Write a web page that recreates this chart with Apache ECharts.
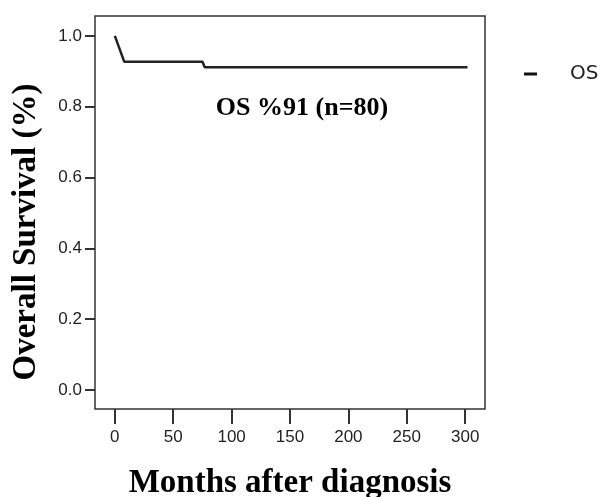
<!DOCTYPE html>
<html>
<head>
<meta charset="utf-8">
<script src="https://cdn.jsdelivr.net/npm/echarts@6/dist/echarts.min.js"></script>
<style>
html,body{margin:0;padding:0;background:#fff;}
#chart{width:603px;height:497px;}
</style>
</head>
<body>
<div id="chart"></div>
<script>
// Data
const seriesName = 'OS';
const osMonths = [0, 8, 75, 77, 302];
const osSurvival = [1.0, 0.927, 0.927, 0.911, 0.911];
const xTickValues = [0, 50, 100, 150, 200, 250, 300];
const yTickValues = [0.0, 0.2, 0.4, 0.6, 0.8, 1.0];
const annotationText = 'OS %91 (n=80)';
const xTitle = 'Months after diagnosis';
const yTitle = 'Overall Survival (%)';

const chart = echarts.init(document.getElementById('chart'), null, {renderer: 'canvas'});
const lineData = osMonths.map((m, i) => [m, osSurvival[i]]);
const tickColor = '#333';
const option = {
  animation: false,
  backgroundColor: '#fff',
  grid: {left: 95, top: 16, width: 390, height: 393, outerBoundsMode: 'none', containLabel: false,
    show: true, borderColor: '#333', borderWidth: 1.5, backgroundColor: 'transparent'},
  legend: {
    show: true, left: 519, top: 59, orient: 'vertical',
    icon: 'rect', itemWidth: 13, itemHeight: 3,
    data: [{name: seriesName, itemStyle: {color: '#111'}}],
    textStyle: {fontFamily: 'DejaVu Sans', fontSize: 20, color: '#222', padding: [0, 0, 0, 28]}
  },
  xAxis: {
    type: 'value', min: -17, max: 317, position: 'bottom',
    name: xTitle, nameLocation: 'middle', nameGap: 58,
    nameTextStyle: {fontFamily: 'Liberation Serif', fontWeight: 'bold', fontSize: 33, color: '#000'},
    axisLine: {show: false, onZero: false},
    axisTick: {show: true, inside: false, length: 15, customValues: xTickValues, lineStyle: {color: tickColor, width: 2}},
    axisLabel: {customValues: xTickValues, margin: 20, fontFamily: 'Liberation Sans', fontSize: 17, color: '#222'},
    splitLine: {show: false}
  },
  yAxis: {
    type: 'value', min: -0.054, max: 1.056,
    axisLine: {show: false, onZero: false},
    axisTick: {show: true, inside: false, length: 10, customValues: yTickValues, lineStyle: {color: tickColor, width: 2}},
    axisLabel: {customValues: yTickValues, margin: 13, fontFamily: 'Liberation Sans', fontSize: 17, color: '#222',
      formatter: v => v.toFixed(1)},
    splitLine: {show: false}
  },
  graphic: [
    {type: 'text', x: 302, y: 108, style: {text: annotationText, textAlign: 'center', textVerticalAlign: 'middle',
      font: 'bold 26px "Liberation Serif"', fill: '#000'}},
    {type: 'text', x: 26, y: 232, rotation: Math.PI / 2, style: {text: yTitle, textAlign: 'center', textVerticalAlign: 'middle',
      font: 'bold 33px "Liberation Serif"', fill: '#000'}}
  ],
  series: [{
    name: seriesName, type: 'line', data: lineData, symbol: 'none',
    lineStyle: {color: '#222', width: 2.5}, itemStyle: {color: '#111'}
  }]
};
chart.setOption(option);
</script>
</body>
</html>
